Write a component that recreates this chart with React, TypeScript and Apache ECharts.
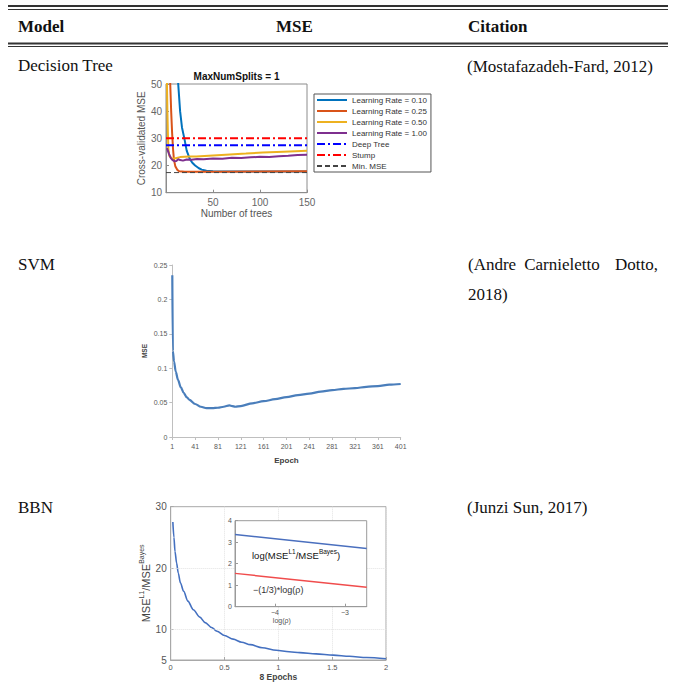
import React, { useEffect, useRef } from 'react';
import * as echarts from 'echarts';

// ---------- table text ----------
const headers = ['Model', 'MSE', 'Citation'];
const models = ['Decision Tree', 'SVM', 'BBN'];
const citeDT = '(Mostafazadeh-Fard, 2012)';
const citeSVMWords = ['(Andre', 'Carnieletto', 'Dotto,'];
const citeSVMLine2 = '2018)';
const citeBBN = '(Junzi Sun, 2017)';

// ---------- chart 1: Decision Tree (MaxNumSplits = 1) ----------
const dtTitle = 'MaxNumSplits = 1';
const dtNames = ['Learning Rate = 0.10', 'Learning Rate = 0.25', 'Learning Rate = 0.50', 'Learning Rate = 1.00', 'Deep Tree', 'Stump', 'Min. MSE'];
const dtXRange = [0, 150];
const lr010: number[][] = [[11, 62], [13, 50], [15, 40], [17, 34], [19.5, 30], [22, 25.5], [25.5, 22.3], [28, 21], [31, 20], [35, 19], [38, 18.5], [43, 18.1], [50, 17.9], [75, 17.8], [100, 17.8], [125, 17.8], [150, 17.8]];
const lr025: number[][] = [[3, 70], [4.5, 50], [5.5, 40], [6.5, 32], [7.5, 26], [8.5, 22], [10, 19.6], [12, 18.4], [14, 17.9], [20, 17.7], [60, 17.7], [100, 17.8], [150, 17.9]];
const lr050: number[][] = [[0.5, 70], [1, 50], [1.5, 40], [2, 32], [2.5, 26], [3.5, 23.6], [6, 22.6], [10, 22.7], [15, 23.1], [25, 23.3], [32, 23.3], [50, 23.7], [68, 24.1], [85, 24.4], [103, 24.8], [125, 25.1], [150, 25.4]];
const lr100: number[][] = [[1, 26.4], [3, 24.5], [5, 22.8], [7, 22], [9, 21.6], [11, 21.7], [13, 22.3], [15, 22.0], [18, 21.8], [22, 22.2], [27, 22.1], [33, 22.4], [40, 22.3], [50, 22.6], [60, 22.5], [70, 22.9], [80, 22.8], [90, 23.0], [100, 23.2], [110, 23.1], [120, 23.4], [130, 23.6], [140, 23.9], [150, 24.0]];
const deepTreeMse = 27.5;
const stumpMse = 30;
const minMse = 17.4;

// ---------- chart 2: SVM ----------
const svmEpoch = [1, 2, 4, 7, 11, 16, 21, 26, 31, 41, 51, 61, 71, 81, 91, 101, 106, 111, 121, 141, 161, 181, 201, 221, 241, 261, 281, 301, 321, 341, 361, 381, 401];
const svmMse = [0.235, 0.125, 0.11, 0.095, 0.083, 0.072, 0.064, 0.058, 0.054, 0.048, 0.044, 0.042, 0.042, 0.0425, 0.044, 0.046, 0.045, 0.044, 0.045, 0.049, 0.052, 0.055, 0.058, 0.061, 0.063, 0.066, 0.068, 0.070, 0.071, 0.073, 0.074, 0.076, 0.077];
const svmTicks = [1, 41, 81, 121, 161, 201, 241, 281, 321, 361, 401];

// ---------- chart 3: BBN ----------
const bbnX = [0.02, 0.03, 0.04, 0.055, 0.07, 0.09, 0.12, 0.16, 0.21, 0.27, 0.32, 0.38, 0.43, 0.5, 0.58, 0.66, 0.74, 0.85, 0.98, 1.1, 1.2, 1.35, 1.51, 1.66, 1.82, 2.0];
const bbnY = [27.5, 25, 22.7, 20.8, 19.2, 17.6, 16.2, 14.6, 13.2, 12, 11.1, 10.3, 9.7, 9.0, 8.4, 7.9, 7.5, 7.0, 6.6, 6.35, 6.2, 6.0, 5.8, 5.6, 5.4, 5.2];
const bbnYTicks = [5, 10, 20, 30];
const bbnGridY = [10, 20];
const insetX = [-4.57, -2.69];
const insetBlue = [3.36, 2.71];
const insetRed = [1.55, 0.9];
const insetXTicks = [-4, -3];

const serif = "'Liberation Serif', 'Times New Roman', serif";
const sans = "'Liberation Sans', Arial, sans-serif";

function txt(text: string, x: number, y: number, size: number, opts: any = {}) {
  return {
    type: 'text', x, y, z: 50,
    style: {
      text, fill: opts.fill || '#111', fontSize: size, fontFamily: opts.family || serif,
      fontWeight: opts.weight || 'normal',
      align: opts.align || 'left', textAlign: opts.align || 'left',
      verticalAlign: 'middle', textVerticalAlign: 'middle',
      rich: opts.rich,
    },
  };
}
function hline(y: number, w: number) {
  return { type: 'line', z: 50, shape: { x1: 8, y1: y, x2: 668, y2: y }, style: { stroke: '#333', lineWidth: w } };
}

const supRich = (base: number, sup: number, color: string) => ({
  a: { fontSize: base, fontFamily: sans, color, verticalAlign: 'bottom', lineHeight: base + 3 },
  s: { fontSize: sup, fontFamily: sans, color, verticalAlign: 'top', lineHeight: sup + 1 },
});

const lineSeries = (name: string, data: number[][], color: string, gi: number, ls: any = {}) => ({
  type: 'line', name, data, xAxisIndex: gi, yAxisIndex: gi, symbol: 'none', showSymbol: false,
  lineStyle: { color, width: 2, ...ls }, itemStyle: { color },
});

export default function App() {
  const ref = useRef<HTMLDivElement>(null);
  useEffect(() => {
    const chart = echarts.init(ref.current!, null, { renderer: 'svg' });
    const dtAxisColor = '#8c8c8c';
    const option: any = {
      animation: false,
      backgroundColor: '#fff',
      grid: [
        { left: 166, top: 84, width: 141, height: 108.7, show: true, borderColor: dtAxisColor, borderWidth: 1 },
        { left: 172.3, top: 265, width: 228.4, height: 172 },
        { left: 170.7, top: 506.7, width: 215.3, height: 153.3, show: true, borderColor: '#a8a8a8', borderWidth: 1 },
        { left: 235, top: 520.7, width: 131.7, height: 86, show: true, backgroundColor: '#fff', borderColor: '#9a9a9a', borderWidth: 1, z: 10 },
      ],
      legend: {
        data: dtNames, orient: 'vertical', left: 314, top: 94, itemWidth: 30, itemHeight: 8, itemGap: 3,
        padding: [2, 4, 2, 2], borderColor: '#555', borderWidth: 1, backgroundColor: '#fff',
        itemStyle: { opacity: 0 },
        textStyle: { fontSize: 8, fontFamily: sans, color: '#333' },
      },
      xAxis: [
        {
          gridIndex: 0, type: 'value', min: dtXRange[0], max: dtXRange[1], interval: 50,
          name: 'Number of trees', nameLocation: 'middle', nameGap: 16,
          nameTextStyle: { fontSize: 10, fontFamily: sans, color: '#555' },
          axisLine: { lineStyle: { color: dtAxisColor } },
          axisTick: { inside: true, length: 3, lineStyle: { color: dtAxisColor } },
          axisLabel: { fontSize: 10, fontFamily: sans, color: '#666', margin: 5, formatter: (v: number) => (v === 0 ? '' : String(v)) },
          splitLine: { show: false },
        },
        {
          gridIndex: 1, type: 'value', min: svmTicks[0], max: svmTicks[svmTicks.length - 1],
          name: 'Epoch', nameLocation: 'middle', nameGap: 19,
          nameTextStyle: { fontSize: 8, fontWeight: 'bold', fontFamily: sans, color: '#404040' },
          axisLine: { lineStyle: { color: '#bfbfbf' } },
          axisTick: { show: true, length: 3, customValues: svmTicks, lineStyle: { color: '#bfbfbf' } },
          axisLabel: { fontSize: 7, fontFamily: sans, color: '#595959', margin: 6, customValues: svmTicks },
          splitLine: { show: false },
        },
        {
          gridIndex: 2, type: 'value', min: 0, max: 2, interval: 0.5,
          name: '8 Epochs', nameLocation: 'middle', nameGap: 12,
          nameTextStyle: { fontSize: 8.5, fontWeight: 'bold', fontFamily: sans, color: '#444' },
          axisLine: { lineStyle: { color: '#a8a8a8' } },
          axisTick: { inside: true, length: 3, lineStyle: { color: '#a8a8a8' } },
          axisLabel: { fontSize: 7.5, fontFamily: sans, color: '#555', margin: 3 },
          splitLine: { show: true, lineStyle: { color: '#e2e2e2', type: 'dotted' } },
        },
        {
          gridIndex: 3, type: 'value', min: insetX[0], max: insetX[1], z: 11,
          name: 'log(ρ)', nameLocation: 'middle', nameGap: 6,
          nameTextStyle: { fontSize: 7, fontFamily: sans, color: '#555', padding: [0, 38, 0, 0] },
          axisLine: { lineStyle: { color: '#9a9a9a' } },
          axisTick: { inside: true, length: 3, customValues: insetXTicks, lineStyle: { color: '#9a9a9a' } },
          axisLabel: { fontSize: 7, fontFamily: sans, color: '#555', margin: 2, customValues: insetXTicks, formatter: (v: number) => (v < 0 ? '\u2212' + Math.abs(v) : String(v)) },
          splitLine: { show: false },
        },
      ],
      yAxis: [
        {
          gridIndex: 0, type: 'value', min: 10, max: 50, interval: 10,
          name: 'Cross-validated MSE', nameLocation: 'middle', nameGap: 15, nameRotate: 90,
          nameTextStyle: { fontSize: 10, fontFamily: sans, color: '#555' },
          axisLine: { lineStyle: { color: dtAxisColor } },
          axisTick: { inside: true, length: 3, lineStyle: { color: dtAxisColor } },
          axisLabel: { fontSize: 10, fontFamily: sans, color: '#666', margin: 4 },
          splitLine: { show: false },
        },
        {
          gridIndex: 1, type: 'value', min: 0, max: 0.25, interval: 0.05,
          name: 'MSE', nameLocation: 'middle', nameGap: 24, nameRotate: 90,
          nameTextStyle: { fontSize: 6.5, fontWeight: 'bold', fontFamily: sans, color: '#404040' },
          axisLine: { show: true, lineStyle: { color: '#bfbfbf' } },
          axisTick: { show: true, length: 3, lineStyle: { color: '#bfbfbf' } },
          axisLabel: { fontSize: 7, fontFamily: sans, color: '#595959', margin: 5 },
          splitLine: { show: false },
        },
        {
          gridIndex: 2, type: 'value', min: 5, max: 30,
          name: '{a|MSE}{s|L1}{a|/MSE}{s|Bayes}', nameLocation: 'middle', nameGap: 19, nameRotate: 90,
          nameTextStyle: { rich: supRich(11, 7, '#444') },
          axisLine: { lineStyle: { color: '#a8a8a8' } },
          axisTick: { inside: true, length: 3, customValues: bbnYTicks, lineStyle: { color: '#a8a8a8' } },
          axisLabel: { fontSize: 10, fontFamily: sans, color: '#555', margin: 4, customValues: bbnYTicks },
          splitLine: { show: false },
        },
        {
          gridIndex: 3, type: 'value', min: 0, max: 4, interval: 1, z: 11,
          axisLine: { show: true, lineStyle: { color: '#9a9a9a' } },
          axisTick: { inside: true, length: 3, lineStyle: { color: '#9a9a9a' } },
          axisLabel: { fontSize: 7, fontFamily: sans, color: '#555', margin: 3 },
          splitLine: { show: false },
        },
      ],
      series: [
        lineSeries(dtNames[0], lr010, '#0072BD', 0),
        lineSeries(dtNames[1], lr025, '#D95319', 0),
        lineSeries(dtNames[2], lr050, '#EDB120', 0),
        lineSeries(dtNames[3], lr100, '#7E2F8E', 0),
        lineSeries(dtNames[4], dtXRange.map((x) => [x, deepTreeMse]), '#0000FF', 0, { type: [8, 3, 2, 3] }),
        lineSeries(dtNames[5], dtXRange.map((x) => [x, stumpMse]), '#FF0000', 0, { type: [8, 3, 2, 3] }),
        lineSeries(dtNames[6], dtXRange.map((x) => [x, minMse]), '#444444', 0, { width: 1, type: [5, 3] }),
        {
          type: 'line', name: 'SVM', xAxisIndex: 1, yAxisIndex: 1, symbol: 'none', smooth: 0.3, smoothMonotone: 'x',
          data: svmEpoch.map((e, i) => [e, svmMse[i]]),
          lineStyle: { color: '#4a7ebb', width: 2.2 },
        },
        {
          type: 'line', name: 'BBN', xAxisIndex: 2, yAxisIndex: 2, symbol: 'none', smooth: 0.3, smoothMonotone: 'x',
          data: bbnX.map((x, i) => [x, bbnY[i]]),
          lineStyle: { color: '#4470c0', width: 1.6 },
          markLine: {
            silent: true, symbol: 'none', label: { show: false },
            lineStyle: { color: '#e2e2e2', type: 'dotted', width: 1 },
            data: bbnGridY.map((v) => ({ yAxis: v })),
          },
        },
        {
          type: 'line', name: 'inset L1', xAxisIndex: 3, yAxisIndex: 3, symbol: 'none', z: 12,
          data: insetX.map((x, i) => [x, insetBlue[i]]), lineStyle: { color: '#4a6fbe', width: 1.5 },
        },
        {
          type: 'line', name: 'inset slope', xAxisIndex: 3, yAxisIndex: 3, symbol: 'none', z: 12,
          data: insetX.map((x, i) => [x, insetRed[i]]), lineStyle: { color: '#f04c4c', width: 1.5 },
        },
      ],
      graphic: [
        hline(6, 2), hline(9.5, 1), hline(43.5, 2), hline(46.5, 1),
        txt(headers[0], 18, 26, 17, { weight: 'bold' }),
        txt(headers[1], 294.5, 26, 17, { weight: 'bold', align: 'center' }),
        txt(headers[2], 468, 26, 17, { weight: 'bold' }),
        txt(models[0], 18, 65, 17),
        txt(models[1], 18, 264, 17),
        txt(models[2], 18, 507, 17),
        txt(citeDT, 467, 66, 17),
        txt(citeSVMWords[0], 468, 264, 17),
        txt(citeSVMWords[1], 562, 264, 17, { align: 'center' }),
        txt(citeSVMWords[2], 658, 264, 17, { align: 'right' }),
        txt(citeSVMLine2, 468, 294, 17),
        txt(citeBBN, 467, 507, 17),
        txt(dtTitle, 236.5, 76, 10, { weight: 'bold', family: sans, align: 'center' }),
        { ...txt('{a|log(MSE}{s|L1}{a|/MSE}{s|Bayes}{a|)}', 252, 554, 9.5, { family: sans, rich: supRich(9.5, 6.5, '#333') }), z: 60 },
        { ...txt('\u2212(1/3)*log(ρ)', 253, 590, 9, { family: sans, fill: '#333' }), z: 60 },
      ],
    };
    chart.setOption(option);
    return () => chart.dispose();
  }, []);
  return <div ref={ref} style={{ position: 'absolute', left: 0, top: 0, width: 675, height: 688, background: '#fff' }} />;
}
